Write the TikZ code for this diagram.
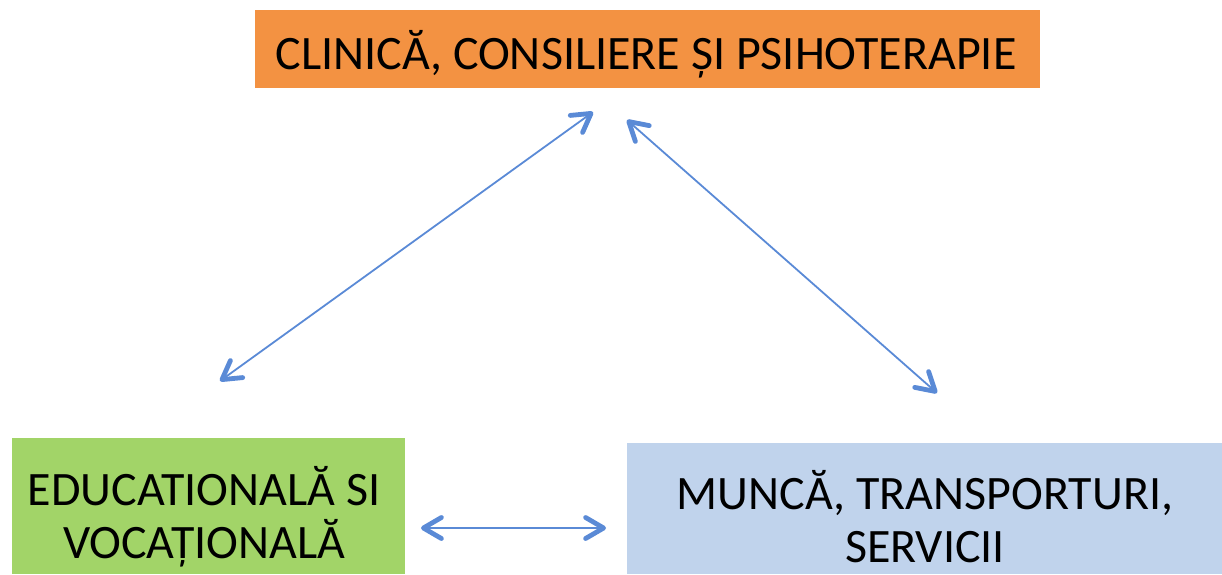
\documentclass[tikz,border=0pt]{standalone}
\usepackage{fontspec}
\setmainfont{Carlito}
\usetikzlibrary{arrows.meta}
\definecolor{toporange}{HTML}{F39242}
\definecolor{boxgreen}{HTML}{A2D468}
\definecolor{boxblue}{HTML}{C0D3EC}
\definecolor{arrowblue}{HTML}{5A8AD6}
\tikzset{
  box/.style={fill=#1, draw=none, inner sep=0pt, outer sep=0pt},
  lbl/.style={inner sep=0pt, outer sep=0pt, anchor=base, align=center,
    font=\fontsize{24pt}{26.25pt}\selectfont},
  biarrow/.style={draw=arrowblue, line width=0.9pt,
    >={Straight Barb[length=9pt,width=10.5pt,line width=2.4pt,round]}, <->}
}
\begin{document}
\begin{tikzpicture}[x=0.5pt,y=-0.5pt]
\useasboundingbox (0,0) rectangle (1222,574);
% boxes
\node[box=toporange, minimum width=392.5pt, minimum height=39pt] (top) at (647.5,49) {};
\node[box=boxgreen, minimum width=196.5pt, minimum height=68pt] (edu) at (208.5,506) {};
\node[box=boxblue, minimum width=297.5pt, minimum height=65.5pt] (work) at (924.5,508.5) {};
% labels
\node[lbl] (toptxt) at (646,69) {CLINICĂ, CONSILIERE ȘI PSIHOTERAPIE};
\node[lbl] (edutxt) at (204,558) {EDUCATIONALĂ SI\\VOCAȚIONALĂ\hspace{12pt}};
\node[lbl] (worktxt) at (925,562) {MUNCĂ, TRANSPORTURI,\\SERVICII};
% arrow ends
\coordinate (a1s) at (220,381);
\coordinate (a1e) at (593,112);
\coordinate (a2s) at (627,120);
\coordinate (a2e) at (937,393);
\coordinate (a3s) at (421,528);
\coordinate (a3e) at (606,528);
\draw[biarrow] (a1s) -- (a1e);
\draw[biarrow] (a2s) -- (a2e);
\draw[biarrow] (a3s) -- (a3e);
\end{tikzpicture}
\end{document}
